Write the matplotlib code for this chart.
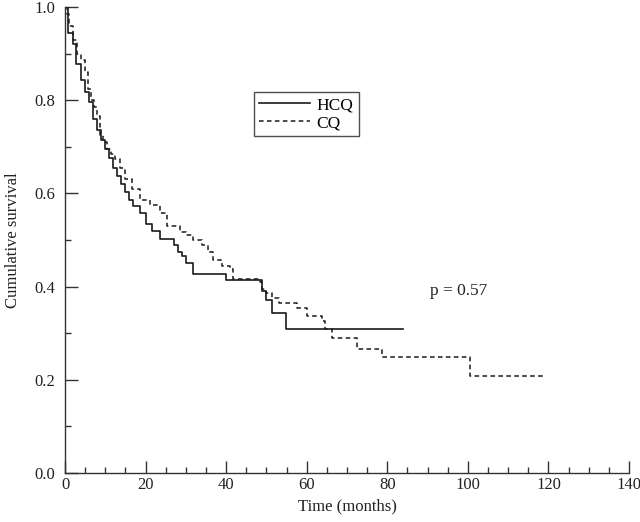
import matplotlib
matplotlib.use("Agg")
import matplotlib.pyplot as plt
from matplotlib.ticker import MultipleLocator

plt.rcParams['font.family'] = ['Liberation Serif', 'DejaVu Serif']

# HCQ (solid) Kaplan-Meier steps
hcq_times = [0.7, 1.9, 2.7, 3.9, 5.0, 6.0, 7.0, 8.0, 9.0, 10.0, 11.0, 12.0, 13.0, 14.0,
             15.0, 16.0, 17.0, 18.5, 20.0, 21.5, 23.5, 27.0, 28.0, 29.0, 30.0, 31.7,
             40.0, 48.8, 50.0, 51.5, 54.8]
hcq_surv = [0.944, 0.92, 0.877, 0.844, 0.817, 0.797, 0.76, 0.737, 0.715, 0.695, 0.675,
            0.655, 0.637, 0.62, 0.603, 0.586, 0.572, 0.557, 0.535, 0.52, 0.503, 0.49,
            0.475, 0.465, 0.45, 0.426, 0.414, 0.39, 0.371, 0.343, 0.309]
hcq_end = 84.0

# CQ (dashed) Kaplan-Meier steps
cq_times = [0.5, 1.0, 2.0, 3.0, 4.0, 5.0, 5.7, 6.5, 7.3, 8.0, 8.7, 9.5, 10.4, 11.5, 12.4,
            13.6, 15.0, 16.6, 18.6, 21.0, 23.5, 25.3, 28.5, 30.0, 31.7, 34.0, 35.5, 36.7,
            39.0, 41.0, 41.6, 48.3, 49.0, 50.0, 51.5, 53.0, 57.5, 60.0, 63.7, 64.5, 66.4,
            72.6, 78.8, 100.6]
cq_surv = [0.985, 0.96, 0.93, 0.90, 0.887, 0.86, 0.823, 0.80, 0.785, 0.767, 0.725, 0.71,
           0.695, 0.685, 0.674, 0.655, 0.631, 0.61, 0.586, 0.575, 0.557, 0.529, 0.518,
           0.51, 0.501, 0.49, 0.475, 0.458, 0.445, 0.437, 0.416, 0.41, 0.395, 0.386,
           0.375, 0.365, 0.354, 0.337, 0.326, 0.309, 0.29, 0.267, 0.249, 0.209]
cq_end = 119.4

x_ticks = [0, 20, 40, 60, 80, 100, 120, 140]
y_ticks = [0.0, 0.2, 0.4, 0.6, 0.8, 1.0]


def km_path(times, surv, end):
    xs = [0.0] + list(times) + [end]
    ys = [1.0] + list(surv) + [surv[-1]]
    return xs, ys


fig = plt.figure(figsize=(6.4, 5.22), dpi=100)
# axes: x from px 65 to 629, y from px 473 (0.0) to 7 (1.0)
ax = fig.add_axes([65 / 640, (522 - 473) / 522, (629 - 65) / 640, (473 - 7) / 522])

lc = '#1a1a1a'
x1, y1 = km_path(hcq_times, hcq_surv, hcq_end)
ax.step(x1, y1, where='post', color=lc, lw=1.2, label='HCQ')
x2, y2 = km_path(cq_times, cq_surv, cq_end)
ax.step(x2, y2, where='post', color=lc, lw=1.1, linestyle=(0, (3.0, 2.2)), label='CQ')

ax.set_xlim(0, 140)
ax.set_ylim(0, 1.0)
ax.set_xticks(x_ticks)
ax.set_yticks(y_ticks)
ax.set_yticklabels([f"{v:.1f}" for v in y_ticks])
ax.xaxis.set_minor_locator(MultipleLocator(5))
ax.yaxis.set_minor_locator(MultipleLocator(0.1))

for s in ['top', 'right']:
    ax.spines[s].set_visible(False)
for s in ['left', 'bottom']:
    ax.spines[s].set_color('#333333')
    ax.spines[s].set_linewidth(1.0)

ax.tick_params(axis='both', which='major', direction='in', length=9, width=1.0,
               color='#333333', labelsize=12, labelcolor='#222222')
ax.tick_params(axis='both', which='minor', direction='in', length=4.5, width=1.0,
               color='#333333')
ax.tick_params(axis='y', which='major', pad=7)
ax.tick_params(axis='x', which='major', pad=3)

ax.set_xlabel('Time (months)', fontsize=12, color='#222222', labelpad=4)
ax.set_ylabel('Cumulative survival', fontsize=12, color='#222222', labelpad=10)

leg = ax.legend(loc='upper left', bbox_to_anchor=((254 - 65) / 564, (473 - 92) / 466),
                frameon=True, fancybox=False, edgecolor='#222222', fontsize=12.5,
                handlelength=2.9, handletextpad=0.4, borderpad=0.3, labelspacing=0.1,
                borderaxespad=0)
leg.get_frame().set_linewidth(1.0)

ax.text(90.5, 0.39, 'p = 0.57', fontsize=12.5, color='#222222', va='center', ha='left')

fig.savefig('out.png', dpi=100)
